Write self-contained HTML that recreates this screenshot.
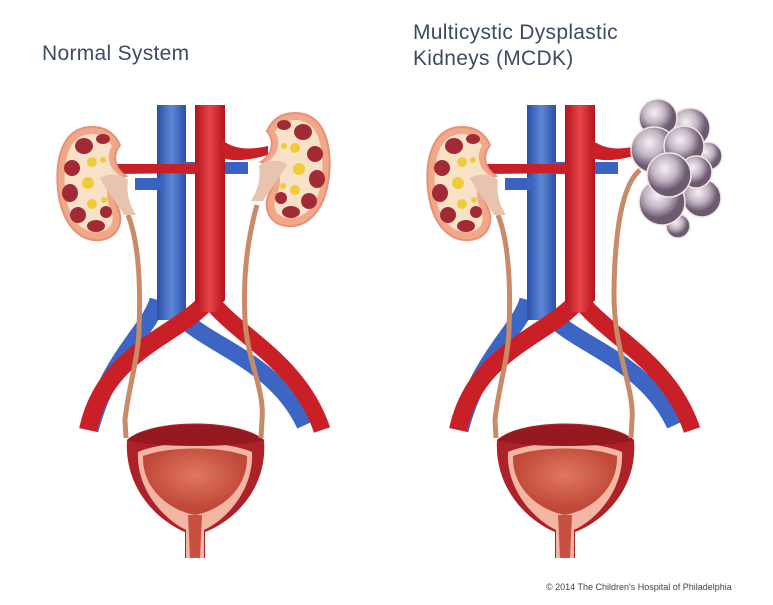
<!DOCTYPE html>
<html><head><meta charset="utf-8"><style>
html,body{margin:0;padding:0;background:#fff;}
body{width:773px;height:605px;overflow:hidden;position:relative;font-family:"Liberation Sans",sans-serif;}
.t{position:absolute;color:#3d4b63;font-size:21px;letter-spacing:0.3px;}
</style></head><body>
<div class="t" style="left:42px;top:42px;">Normal System</div>
<div class="t" style="left:413px;top:20px;line-height:26px;">Multicystic Dysplastic<br>Kidneys (MCDK)</div>
<div style="position:absolute;left:546px;top:582px;font-size:9px;color:#444;">© 2014 The Children's Hospital of Philadelphia</div>
<svg width="773" height="605" style="position:absolute;left:0;top:0">
<defs>
<linearGradient id="bl" x1="0" x2="1"><stop offset="0" stop-color="#2a4fa8"/><stop offset=".5" stop-color="#5f86d6"/><stop offset="1" stop-color="#2a4fa8"/></linearGradient>
<linearGradient id="rd" x1="0" x2="1"><stop offset="0" stop-color="#b3121c"/><stop offset=".5" stop-color="#e8454a"/><stop offset="1" stop-color="#b3121c"/></linearGradient>
<radialGradient id="cy" cx=".4" cy=".35"><stop offset="0" stop-color="#f4f1f4"/><stop offset=".55" stop-color="#c2b6c4"/><stop offset="1" stop-color="#6c5a70"/></radialGradient>
<radialGradient id="bi" cx=".5" cy=".4"><stop offset="0" stop-color="#e07860"/><stop offset="1" stop-color="#c04838"/></radialGradient>
<g id="kid">
 <path d="M92,127 C62,127 55,160 58,190 C62,225 80,242 100,240 C118,238 124,222 118,208 C110,195 112,180 126,176 C114,168 112,155 120,145 C114,132 104,127 92,127 Z" fill="#f0a888" stroke="#e8907a" stroke-width="2"/>
 <path d="M92,134 C68,134 63,162 65,190 C68,222 84,234 100,232 C112,230 115,220 111,210 C104,196 106,180 120,176 C108,168 106,155 112,146 C108,138 100,134 92,134 Z" fill="#f7e2c8"/>
 <g fill="#a22a36"><ellipse cx="84" cy="146" rx="9" ry="8"/><ellipse cx="72" cy="168" rx="8" ry="8"/><ellipse cx="70" cy="193" rx="8" ry="9"/><ellipse cx="78" cy="215" rx="8" ry="8"/><ellipse cx="96" cy="226" rx="9" ry="6"/><ellipse cx="103" cy="139" rx="7" ry="5"/><ellipse cx="106" cy="212" rx="6" ry="6"/></g>
 <g fill="#efcc3a"><circle cx="92" cy="162" r="5"/><circle cx="88" cy="183" r="6"/><circle cx="92" cy="204" r="5"/><circle cx="103" cy="160" r="3"/><circle cx="104" cy="200" r="3"/></g>
 <path d="M100,178 C112,172 122,175 128,180 C126,195 130,205 136,215 L124,215 C118,205 106,190 100,178 Z" fill="#e8c4b0"/>
</g>
<g id="sys">
 <path d="M158,300 C150,330 110,355 90,430" stroke="#3d66c4" stroke-width="17" fill="none"/>
 <path d="M180,315 C205,345 275,360 305,425" stroke="#3d66c4" stroke-width="17" fill="none"/>
 <rect x="157" y="105" width="29" height="215" fill="url(#bl)"/>
 <rect x="135" y="178" width="28" height="12" fill="#3a62c0"/>
 <path d="M183,162 L248,162 L248,174 L183,174 Z" fill="#3a62c0"/>
 <path d="M208,300 C180,335 105,350 88,430" stroke="#c92027" stroke-width="18" fill="none"/>
 <path d="M214,305 C245,340 300,365 322,430" stroke="#c92027" stroke-width="17" fill="none"/>
 <path d="M195,105 L225,105 L225,300 L215,312 L200,312 L195,300 Z" fill="url(#rd)"/>
 <path d="M115,164 L198,164 L198,173 L115,174 Z" fill="#c92027"/>
 <path d="M222,140 C235,150 250,150 268,146 L268,155 C250,160 235,162 222,158 Z" fill="#c92027"/>
 <path d="M128,215 C138,240 141,280 139,330 C138,360 128,390 125,420 L126,438" stroke="#c98a68" stroke-width="5" fill="none"/>
 <path d="M127,440 C124,490 160,522 185,532 L185,558 L205,558 L205,532 C232,522 268,490 264,440 C240,418 150,418 127,440 Z" fill="#ad2229"/>
 <path d="M138,452 C136,490 165,520 186,530 L186,558 L204,558 L204,530 C226,520 254,490 252,452 C225,440 165,440 138,452 Z" fill="#f3b6a4"/>
 <path d="M143,456 C142,488 168,510 195,515 C222,510 248,488 247,456 C220,446 170,446 143,456 Z" fill="url(#bi)"/>
 <path d="M188,515 L202,515 L200,558 L190,558 Z" fill="#c85040"/>
 <path d="M127,440 C150,420 240,420 264,440 C240,448 150,448 127,440 Z" fill="#951a20"/>
</g>
</defs>
<use href="#sys"/>
<use href="#kid"/>
<use href="#kid" transform="translate(387,-14) scale(-1,1)"/>
<path d="M257,205 C247,240 243,280 245,320 C247,360 265,390 262,420 L261,438" stroke="#c98a68" stroke-width="5" fill="none"/>
<use href="#sys" x="370"/>
<use href="#kid" x="370"/>
<path d="M640,170 C622,185 615,230 614,290 C613,350 635,390 632,420 L631,438" stroke="#c98a68" stroke-width="5" fill="none"/>
<g stroke="#f3e6e4" stroke-width="1.5">
<circle cx="690" cy="128" r="20" fill="url(#cy)"/><circle cx="708" cy="156" r="14" fill="url(#cy)"/>
<circle cx="658" cy="118" r="19" fill="url(#cy)"/>
<circle cx="678" cy="226" r="12" fill="url(#cy)"/>
<circle cx="702" cy="198" r="19" fill="url(#cy)"/>
<circle cx="654" cy="150" r="23" fill="url(#cy)"/><circle cx="684" cy="146" r="20" fill="url(#cy)"/>
<circle cx="662" cy="202" r="23" fill="url(#cy)"/>
<circle cx="696" cy="172" r="16" fill="url(#cy)"/><circle cx="669" cy="175" r="22" fill="url(#cy)"/>
</g>
</svg>
</body></html>
